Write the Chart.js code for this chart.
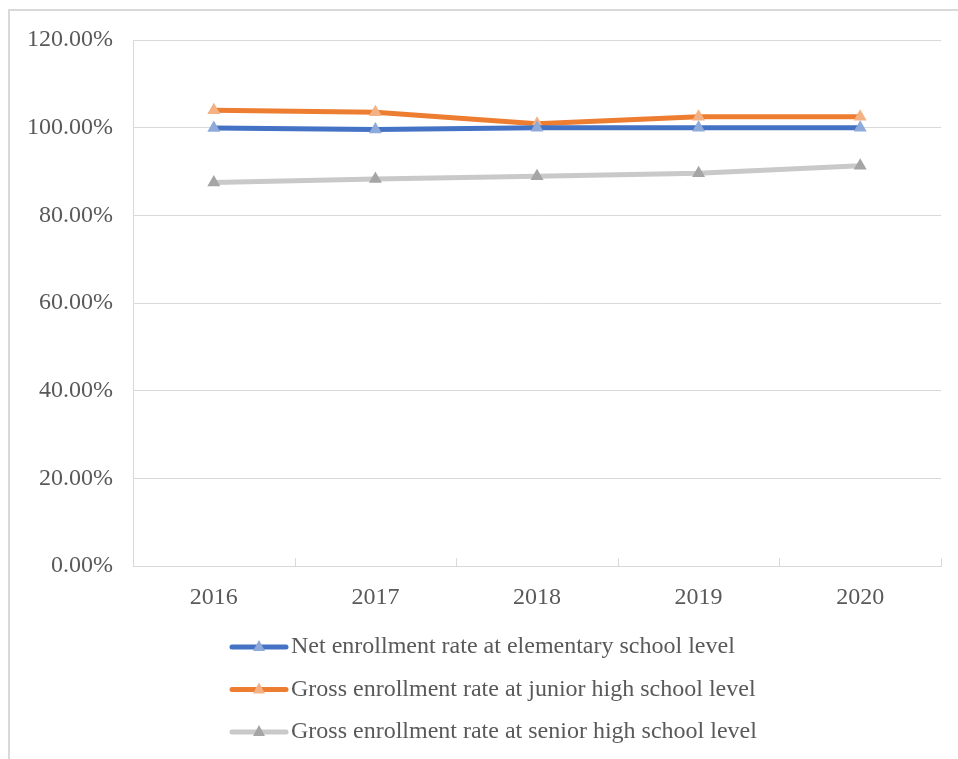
<!DOCTYPE html>
<html>
<head>
<meta charset="utf-8">
<script src="https://cdn.jsdelivr.net/npm/chart.js@4"></script>
<style>
    html, body { margin: 0; padding: 0; background: #fff; }
    #frame {
        position: absolute; left: 8px; top: 9px; width: 1000px; height: 800px;
        border-left: 2px solid #d9d9d9; border-top: 2px solid #d9d9d9;
    }
    #enrollChart { position: absolute; left: 0; top: 0; }
</style>
</head>
<body>
<div id="frame"></div>
<canvas id="enrollChart" width="958" height="759"></canvas>
<script>
// Roky a hodnoty jednotlivých řad (v procentech)
const years = ['2016', '2017', '2018', '2019', '2020'];
const elementaryNet = [99.9, 99.6, 100.0, 100.0, 100.0];
const juniorGross = [104.0, 103.5, 100.9, 102.5, 102.5];
const seniorGross = [87.5, 88.3, 88.9, 89.6, 91.3];
const seriesNames = [
    'Net enrollment rate at elementary school level',
    'Gross enrollment rate at junior high school level',
    'Gross enrollment rate at senior high school level'
];
const yTicks = [0, 20, 40, 60, 80, 100, 120];

const textColor = '#595959';
const gridColor = '#d9d9d9';
const serif = 'Liberation Serif';
const fontSize = 24;

function makeSeries(label, data, lineColor, markerColor) {
    return {
        label: label,
        data: data,
        borderColor: lineColor,
        backgroundColor: markerColor,
        borderWidth: 5,
        pointStyle: 'triangle',
        pointRadius: 7.5,
        pointBorderWidth: 0,
        pointBackgroundColor: markerColor,
        tension: 0
    };
}

// Krátké svislé značky mezi kategoriemi (směrem dovnitř grafu)
const innerTicks = {
    id: 'innerTicks',
    afterDraw(chart) {
        const x = chart.scales.x;
        const ctx = chart.ctx;
        const step = (x.right - x.left) / years.length;
        ctx.save();
        ctx.strokeStyle = gridColor;
        ctx.lineWidth = 1;
        for (let i = 1; i <= years.length; i++) {
            const px = Math.round(x.left + i * step) + 0.5;
            ctx.beginPath();
            ctx.moveTo(px, x.top);
            ctx.lineTo(px, x.top - 8);
            ctx.stroke();
        }
        ctx.restore();
    }
};

// Legenda pod grafem, jedna položka na řádek
const stackedLegend = {
    id: 'stackedLegend',
    afterDraw(chart) {
        const ctx = chart.ctx;
        const base = chart.chartArea.bottom;
        ctx.save();
        chart.data.datasets.forEach(function(ds, i) {
            const y = base + 81 + i * 42.5;
            ctx.strokeStyle = ds.borderColor;
            ctx.lineWidth = 5;
            ctx.lineCap = 'round';
            ctx.beginPath();
            ctx.moveTo(232, y);
            ctx.lineTo(286, y);
            ctx.stroke();
            ctx.fillStyle = ds.pointBackgroundColor;
            ctx.beginPath();
            ctx.moveTo(259, y - 7);
            ctx.lineTo(265, y + 4);
            ctx.lineTo(253, y + 4);
            ctx.closePath();
            ctx.fill();
            ctx.fillStyle = textColor;
            ctx.font = fontSize + 'px "' + serif + '"';
            ctx.textBaseline = 'middle';
            ctx.textAlign = 'left';
            ctx.fillText(ds.label, 291, y);
        });
        ctx.restore();
    }
};

const ctx = document.getElementById('enrollChart').getContext('2d');
new Chart(ctx, {
    type: 'line',
    data: {
        labels: years,
        datasets: [
            makeSeries(seriesNames[0], elementaryNet, '#4472c4', '#8eaadb'),
            makeSeries(seriesNames[1], juniorGross, '#ed7d31', '#f4b183'),
            makeSeries(seriesNames[2], seniorGross, '#c9c9c9', '#a5a5a5')
        ]
    },
    options: {
        responsive: false,
        animation: false,
        layout: { padding: { left: 10, right: 17, top: 40, bottom: 133 } },
        plugins: {
            legend: { display: false },
            tooltip: { enabled: false }
        },
        scales: {
            x: {
                offset: true,
                grid: { display: false },
                border: { display: true, color: gridColor, width: 1 },
                ticks: {
                    color: textColor,
                    font: { family: serif, size: fontSize },
                    padding: 9
                },
                afterFit(scale) { scale.height = 60; }
            },
            y: {
                min: 0,
                max: 120,
                afterBuildTicks(scale) {
                    scale.ticks = yTicks.map(v => ({ value: v }));
                },
                grid: { color: gridColor, lineWidth: 1, drawTicks: false },
                border: { display: true, color: gridColor, width: 1 },
                ticks: {
                    color: textColor,
                    font: { family: serif, size: fontSize },
                    padding: 20,
                    callback: v => v.toFixed(2) + '%'
                },
                afterFit(scale) { scale.width = 123; }
            }
        }
    },
    plugins: [innerTicks, stackedLegend]
});
</script>
</body>
</html>
